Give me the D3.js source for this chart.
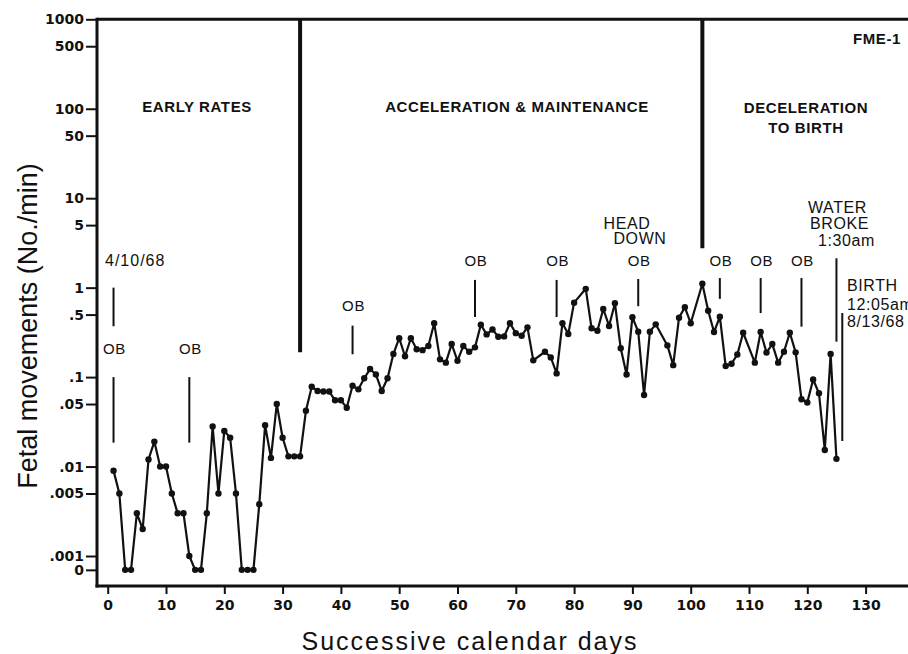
<!DOCTYPE html>
<html><head><meta charset="utf-8">
<script src="https://cdn.jsdelivr.net/npm/d3@7/dist/d3.min.js"></script>
<style>
html,body{margin:0;padding:0;background:#fff;}
svg{display:block;}
</style></head><body>
<svg id="chart" width="908" height="654"></svg>
<script>
// ---------------- data ----------------
const days = [1,2,3,4,5,6,7,8,9,10,11,12,13,14,15,16,17,18,19,20,21,22,23,24,25,26,27,28,29,30,
  31,32,33,34,35,36,37,38,39,40,41,42,43,44,45,46,47,48,49,50,51,52,53,54,55,56,57,58,59,60,
  61,62,63,64,65,66,67,68,69,70,71,72,73,75,76,77,78,79,80,82,83,84,85,86,87,88,89,90,
  91,92,93,94,96,97,98,99,100,102,103,104,105,106,107,108,109,111,112,113,114,115,116,117,118,119,120,
  121,122,123,124,125];
const movements = [0.009,0.005,0,0,0.003,0.002,0.012,0.019,0.010,0.010,0.005,0.003,0.003,0.001,0,0,0.003,0.028,0.005,0.025,
  0.021,0.005,0,0,0,0.0038,0.029,0.0125,0.050,0.021,
  0.013,0.013,0.013,0.042,0.078,0.070,0.069,0.069,0.055,0.055,0.0455,0.080,0.073,0.097,0.123,0.107,0.070,0.097,0.181,0.272,
  0.171,0.272,0.205,0.200,0.223,0.40,0.158,0.145,0.234,0.152,
  0.223,0.192,0.215,0.385,0.30,0.34,0.283,0.285,0.40,0.31,0.29,0.36,0.154,0.192,0.166,0.110,0.40,0.303,0.68,0.97,0.351,0.33,0.577,0.373,0.668,0.21,0.107,0.467,
  0.322,0.063,0.322,0.389,0.226,0.136,0.462,0.603,0.40,1.107,0.552,0.319,0.473,0.133,0.141,0.179,0.313,0.145,0.319,0.188,0.234,0.145,0.192,0.313,0.189,0.0565,0.052,
  0.094,0.066,0.0153,0.181,0.0122];

const yTickValues = [1000,500,100,50,10,5,1,0.5,0.1,0.05,0.01,0.005,0.001,0];
const yTickLabels = ["1000","500","100","50","10","5","1",".5",".1",".05",".01",".005",".001","0"];
const xTickValues = [0,10,20,30,40,50,60,70,80,90,100,110,120,130];

const obDays   = [1,14,42,63,77,91,105,112,119];
const obTop    = [0.1,0.1,0.376,1.22,1.22,1.25,1.28,1.28,1.28];
const obBottom = [0.0185,0.0185,0.18,0.47,0.47,0.62,0.75,0.52,0.366];
const obLabelLevel = [0.181,0.181,0.552,1.75,1.75,1.75,1.75,1.75,1.75];

const phaseBoundaryDays = [33,102];
const phaseBoundaryBottom = [0.19,2.75];

const startDay = 1, startTop = 1.0, startBottom = 0.37, startLabel = "4/10/68";
const waterDay = 125, waterTop = 2.13, waterBottom = 0.249;
const waterLabel = ["WATER","BROKE","1:30am"];
const birthDay = 126, birthTop = 0.52, birthBottom = 0.0193;
const birthLabel = ["BIRTH","12:05am","8/13/68"];
const headDownDay = 91, headDownLabel = ["HEAD","DOWN"];

// ---------------- layout ----------------
const svg = d3.select("#chart");
const ZERO_AT = 0.0007;              // where "0" sits on the log axis
const x = d3.scaleLinear().domain([0,130]).range([107.7,865.6]);
const y = d3.scaleLog().domain([0.001,1000]).range([556,19.3]);
const yv = v => y(v === 0 ? ZERO_AT : v);
const axisX = 97, axisY = 586, rightEdge = 908;

const numFont = "'DejaVu Sans', sans-serif";
const txtFont = "'Liberation Sans', Arial, sans-serif";

// frame lines
svg.append("line").attr("x1",axisX).attr("x2",rightEdge).attr("y1",y(1000)).attr("y2",y(1000))
  .attr("stroke","#111").attr("stroke-width",3);
svg.append("line").attr("x1",axisX).attr("x2",axisX).attr("y1",y(1000)-1.5).attr("y2",axisY+1.5)
  .attr("stroke","#111").attr("stroke-width",3);
svg.append("line").attr("x1",axisX-1.5).attr("x2",rightEdge).attr("y1",axisY).attr("y2",axisY)
  .attr("stroke","#111").attr("stroke-width",3);

// y axis
const yAxis = d3.axisLeft(y)
  .tickValues(yTickValues.map(v => v === 0 ? ZERO_AT : v))
  .tickFormat((d,i) => yTickLabels[i])
  .tickSize(11).tickPadding(2);
const gy = svg.append("g").attr("transform",`translate(${axisX},0)`).call(yAxis);
gy.select(".domain").remove();
gy.selectAll(".tick line").attr("stroke","#111").attr("stroke-width",2);
gy.selectAll(".tick text").attr("font-family",numFont).attr("font-weight","bold")
  .attr("font-size",14).attr("fill","#111");

// x axis
const xAxis = d3.axisBottom(x).tickValues(xTickValues).tickSize(8).tickPadding(6);
const gx = svg.append("g").attr("transform",`translate(0,${axisY})`).call(xAxis);
gx.select(".domain").remove();
gx.selectAll(".tick line").attr("stroke","#111").attr("stroke-width",2);
gx.selectAll(".tick text").attr("font-family",numFont).attr("font-weight","bold")
  .attr("font-size",14).attr("fill","#111");

// axis titles
svg.append("text").attr("x",470).attr("y",650).attr("text-anchor","middle")
  .attr("font-family",txtFont).attr("font-size",25).attr("letter-spacing",2).attr("fill","#111")
  .text("Successive calendar days");
svg.append("text").attr("transform","translate(37,326) rotate(-90)").attr("text-anchor","middle")
  .attr("font-family",txtFont).attr("font-size",27).attr("fill","#111")
  .text("Fetal movements (No./min)");

// phase boundaries
phaseBoundaryDays.forEach((d,i) => {
  svg.append("line").attr("x1",x(d)).attr("x2",x(d)).attr("y1",y(1000)).attr("y2",y(phaseBoundaryBottom[i]))
    .attr("stroke","#111").attr("stroke-width",4);
});

// phase labels
const lab = (tx,ty,t,opts={}) => svg.append("text").attr("x",tx).attr("y",ty)
  .attr("text-anchor",opts.anchor||"middle").attr("font-family",opts.font||txtFont)
  .attr("font-weight",opts.weight||"bold").attr("font-size",opts.size||15)
  .attr("letter-spacing",opts.ls||0.6).attr("fill","#111").text(t);
lab(197,112,"EARLY RATES");
lab(517,112,"ACCELERATION & MAINTENANCE");
lab(806,113,"DECELERATION");
lab(806,133,"TO BIRTH");
lab(901,44,"FME-1",{anchor:"end"});

// OB markers
obDays.forEach((d,i) => {
  svg.append("line").attr("x1",x(d)).attr("x2",x(d)).attr("y1",y(obTop[i])).attr("y2",y(obBottom[i]))
    .attr("stroke","#111").attr("stroke-width",2);
  lab(x(d)+1,y(obLabelLevel[i]),"OB",{weight:"normal",ls:0});
});

// start date marker
svg.append("line").attr("x1",x(startDay)).attr("x2",x(startDay)).attr("y1",y(startTop)).attr("y2",y(startBottom))
  .attr("stroke","#111").attr("stroke-width",2);
lab(105,266,startLabel,{anchor:"start",weight:"normal",size:16,ls:1});

// head down
lab(627,229,headDownLabel[0],{weight:"normal",size:16,ls:0});
lab(640,244,headDownLabel[1],{weight:"normal",size:16,ls:0});

// water broke
svg.append("line").attr("x1",x(waterDay)).attr("x2",x(waterDay)).attr("y1",y(waterTop)).attr("y2",y(waterBottom))
  .attr("stroke","#111").attr("stroke-width",2);
lab(808,213,waterLabel[0],{anchor:"start",weight:"normal",size:16,ls:0});
lab(810,228.5,waterLabel[1],{anchor:"start",weight:"normal",size:16,ls:0});
lab(818,246,waterLabel[2],{anchor:"start",weight:"normal",size:16,ls:0});

// birth
svg.append("line").attr("x1",x(birthDay)).attr("x2",x(birthDay)).attr("y1",y(birthTop)).attr("y2",y(birthBottom))
  .attr("stroke","#111").attr("stroke-width",2);
lab(847,291,birthLabel[0],{anchor:"start",weight:"normal",size:16,ls:0});
lab(847,310,birthLabel[1],{anchor:"start",weight:"normal",size:16,ls:0});
lab(847,327,birthLabel[2],{anchor:"start",weight:"normal",size:16,ls:0});

// data line + points
const pts = days.map((d,i) => ({day:d, v:movements[i]}));
svg.append("path").datum(pts)
  .attr("d", d3.line().x(d => x(d.day)).y(d => yv(d.v)))
  .attr("fill","none").attr("stroke","#111").attr("stroke-width",2.2).attr("stroke-linejoin","round");
svg.append("g").selectAll("circle").data(pts).join("circle")
  .attr("cx",d => x(d.day)).attr("cy",d => yv(d.v)).attr("r",3.2).attr("fill","#111");
</script>
</body></html>
